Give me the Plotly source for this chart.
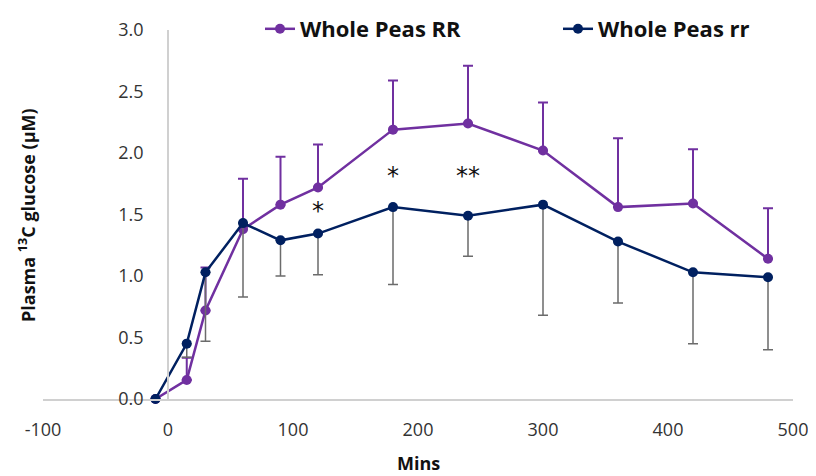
import plotly.graph_objects as go

mins = [-10, 15, 30, 60, 90, 120, 180, 240, 300, 360, 420, 480]
rr_big = [0.0, 0.155, 0.72, 1.38, 1.58, 1.72, 2.19, 2.24, 2.02, 1.56, 1.59, 1.14]
rr_big_err_up = [0.0, 0.18, 0.35, 0.41, 0.39, 0.35, 0.40, 0.47, 0.39, 0.56, 0.44, 0.41]
rr_small = [0.0, 0.45, 1.03, 1.43, 1.29, 1.345, 1.56, 1.49, 1.58, 1.28, 1.03, 0.99]
rr_small_err_down = [0.0, 0.11, 0.56, 0.60, 0.29, 0.335, 0.63, 0.33, 0.90, 0.50, 0.58, 0.59]

x_ticks = [-100, 0, 100, 200, 300, 400, 500]
x_tick_labels = ["-100", "0", "100", "200", "300", "400", "500"]

sig_x = [120, 180, 240]
sig_y = [1.53, 1.81, 1.81]
sig_text = ["*", "*", "**"]

PURPLE = "#7030A0"
NAVY = "#002060"
FONT = "Open Sans"

fig = go.Figure()
fig.add_trace(go.Scatter(
    x=mins, y=rr_big, mode="lines+markers", name="Whole Peas RR", legend="legend",
    line=dict(color=PURPLE, width=2.5), marker=dict(color=PURPLE, size=10),
    error_y=dict(type="data", array=rr_big_err_up, arrayminus=[0]*len(mins),
                 symmetric=False, color=PURPLE, thickness=2, width=5),
    cliponaxis=False,
))
fig.add_trace(go.Scatter(
    x=mins, y=rr_small, mode="lines+markers", name="Whole Peas rr", legend="legend2",
    line=dict(color=NAVY, width=2.5), marker=dict(color=NAVY, size=10),
    error_y=dict(type="data", array=[0]*len(mins), arrayminus=rr_small_err_down,
                 symmetric=False, color="#6b6b6b", thickness=1.5, width=5),
    cliponaxis=False,
))

for x, y, t in zip(sig_x, sig_y, sig_text):
    fig.add_annotation(x=x, y=y, text=t, showarrow=False,
                       font=dict(family="DejaVu Sans", size=24, color="#111"))

fig.add_annotation(xref="paper", yref="paper", x=(27 - 43) / 750, y=(399 - 215) / 369,
                   xanchor="center", yanchor="middle",
                   text="<b>Plasma <sup>13</sup>C glucose (μM)</b>", textangle=-90,
                   showarrow=False, font=dict(family=FONT, size=18, color="#111"))
fig.add_annotation(xref="paper", yref="paper", x=(418 - 43) / 750, y=-(463 - 399) / 369,
                   xanchor="center", yanchor="middle",
                   text="<b>Mins</b>", showarrow=False,
                   font=dict(family=FONT, size=18, color="#111"))

legend_common = dict(orientation="h", yanchor="top", xanchor="left",
                     font=dict(family=FONT, size=22, color="#111", weight="bold"),
                     bgcolor="rgba(0,0,0,0)", borderwidth=0)

# page body adds an 8px offset, so the figure is 8px smaller than the window
fig.update_layout(
    width=808, height=468,
    margin=dict(l=35, r=23, t=22, b=77, autoexpand=False),
    paper_bgcolor="white", plot_bgcolor="white",
    font=dict(family=FONT, size=18, color="#333"),
    showlegend=True,
    legend=dict(x=(260 - 43) / 750, y=1 + 22 / 369, **legend_common),
    legend2=dict(x=(558 - 43) / 750, y=1 + 22 / 369, **legend_common),
    xaxis=dict(range=[-100, 500], tickvals=x_ticks, ticktext=x_tick_labels,
               showgrid=False, zeroline=False,
               showline=True, linecolor="#d0d0d0", linewidth=1.5, ticks="",
               ticklabelstandoff=14, tickfont=dict(size=18, color="#333")),
    yaxis=dict(range=[0, 3], dtick=0.5, tickformat=".1f", showgrid=False, zeroline=False,
               showline=True, linecolor="#d0d0d0", linewidth=1.5, ticks="",
               anchor="free", position=(168 - 43) / 750, ticklabelstandoff=20,
               tickfont=dict(size=18, color="#333")),
)

fig.write_html("out.html")
